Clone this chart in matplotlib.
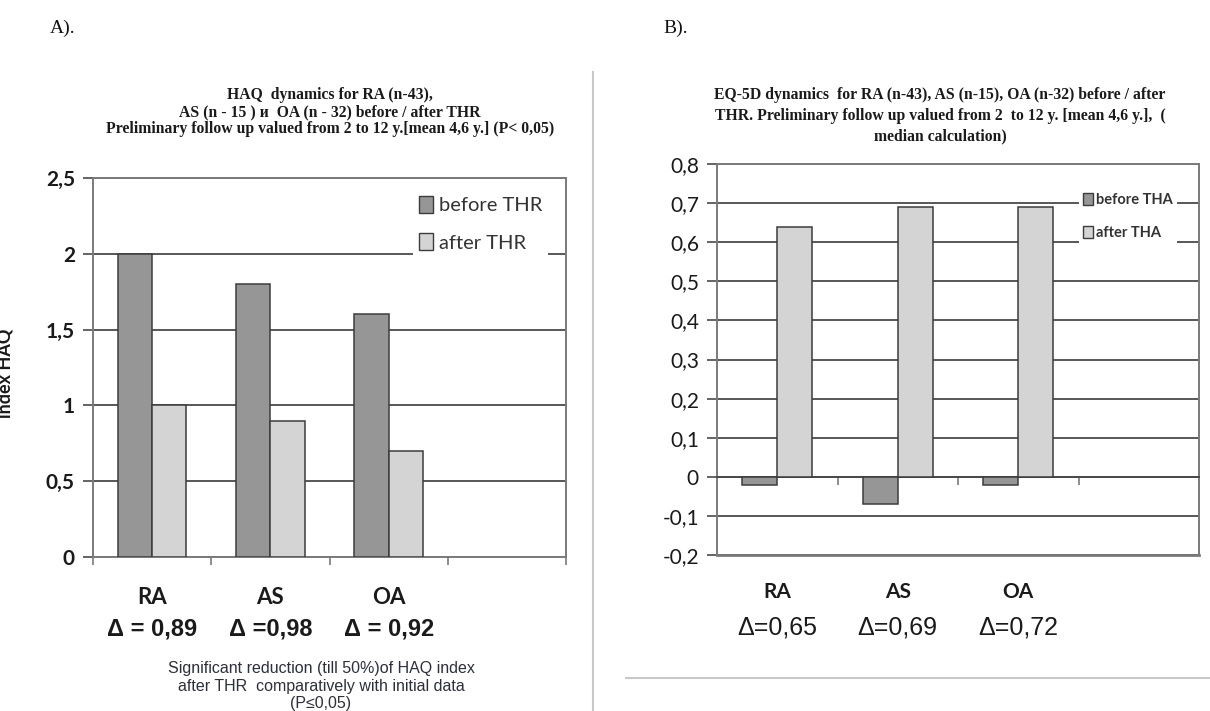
import numpy as np
import matplotlib
matplotlib.use("Agg")
import matplotlib.pyplot as plt
from matplotlib.patches import Patch
from matplotlib.lines import Line2D
import matplotlib.transforms as mtransforms

# ---------------------------------------------------
# Data
# ---------------------------------------------------
groups = ["RA", "AS", "OA"]
n_slots = 4  # the Excel charts leave one empty category on the right

haq_before = [2.0, 1.8, 1.6]
haq_after = [1.0, 0.9, 0.7]
haq_delta = ["\u0394 = 0,89", "\u0394 =0,98", "\u0394 = 0,92"]

eq_before = [-0.02, -0.07, -0.02]
eq_after = [0.64, 0.69, 0.69]
eq_delta = ["\u0394=0,65", "\u0394=0,69", "\u0394=0,72"]

haq_ticks = [0, 0.5, 1, 1.5, 2, 2.5]
haq_ticklabels = ["0", "0,5", "1", "1,5", "2", "2,5"]
eq_ticks = [-0.2, -0.1, 0, 0.1, 0.2, 0.3, 0.4, 0.5, 0.6, 0.7, 0.8]
eq_ticklabels = ["-0,2", "-0,1", "0", "0,1", "0,2", "0,3", "0,4", "0,5", "0,6", "0,7", "0,8"]

title_a = ("HAQ  dynamics for RA (n-43),\n"
           "AS (n - 15 ) \u0438  OA (n - 32) before / after THR\n"
           "Preliminary follow up valued from 2 to 12 y.[mean 4,6 y.] (P< 0,05)")
title_b = ("EQ-5D dynamics  for RA (n-43), AS (n-15), OA (n-32) before / after\n"
           "THR. Preliminary follow up valued from 2  to 12 y. [mean 4,6 y.],  (\n"
           "median calculation)")
note_a = ("Significant reduction (till 50%)of HAQ index\n"
          "after THR  comparatively with initial data\n"
          "(P\u22640,05)")

# ---------------------------------------------------
# Styling
# ---------------------------------------------------
W, H = 1210, 711
dark = "#969696"
light = "#d4d4d4"
edge = "#3c3c3c"
spine_c = "#7a7a7a"
grid_c = "#4a4a4a"
narrow = ["Liberation Sans Narrow", "Liberation Sans", "DejaVu Sans"]

fig = plt.figure(figsize=(W / 100, H / 100), dpi=100)
fig.patch.set_facecolor("white")


def px_axes(l, t, r, b):
    return fig.add_axes([l / W, 1 - b / H, (r - l) / W, (b - t) / H])


def fy(y):
    return 1 - y / H


def style_axes(ax):
    for s in ax.spines.values():
        s.set_color(spine_c)
        s.set_linewidth(1.4)
    ax.yaxis.grid(True, color=grid_c, linewidth=1.3)
    ax.set_axisbelow(True)
    ax.tick_params(axis="y", direction="out", length=7, width=1.2, color=grid_c, pad=6)
    ax.tick_params(axis="x", direction="out", length=6, width=1.2, color=spine_c, labelbottom=False)


x = np.arange(len(groups))
bw = 0.29

# ---------------------------------------------------
# A) HAQ chart
# ---------------------------------------------------
ax1 = px_axes(93, 178, 566, 557)
ax1.bar(x - bw / 2, haq_before, bw, color=dark, edgecolor=edge, linewidth=1.1, zorder=3)
ax1.bar(x + bw / 2, haq_after, bw, color=light, edgecolor=edge, linewidth=1.1, zorder=3)
ax1.set_xlim(-0.5, n_slots - 0.5)
ax1.set_ylim(0, 2.5)
ax1.set_yticks(haq_ticks)
ax1.set_yticklabels(haq_ticklabels, fontfamily="Lato", fontweight="bold", fontsize=15, color="#1a1a1a")
ax1.set_xticks(np.arange(n_slots + 1) - 0.5)
style_axes(ax1)

leg1 = ax1.legend(
    handles=[Patch(facecolor=dark, edgecolor=edge, label="before THR"),
             Patch(facecolor=light, edgecolor=edge, label="after THR")],
    loc="upper left", bbox_to_anchor=(0.655, 0.995), frameon=True, fancybox=False,
    facecolor="white", edgecolor="none", framealpha=1,
    prop={"family": "Lato", "size": 14.5}, handlelength=0.7, handleheight=0.9,
    handletextpad=0.3, labelspacing=0.95, borderpad=0.3)
for t in leg1.get_texts():
    t.set_color("#333333")

tr1 = mtransforms.blended_transform_factory(ax1.transData, fig.transFigure)
for i, g in enumerate(groups):
    ax1.text(x[i], fy(597), g, transform=tr1, ha="center", va="center",
             fontfamily="Lato", fontweight="bold", fontsize=16, color="#1a1a1a")
    ax1.text(x[i], fy(629), haq_delta[i], transform=tr1, ha="center", va="center",
             family=narrow, fontweight="bold", fontsize=17, color="#1a1a1a")

fig.text(330 / W, fy(112), title_a, ha="center", va="center", family="Liberation Serif",
         fontweight="bold", fontsize=11.3, linespacing=1.05, color="#1a1a1a")
fig.text(321 / W, fy(686), note_a, ha="center", va="center", family=narrow,
         fontsize=11.5, linespacing=1.2, color="#2e2e3e")
fig.text(5 / W, fy(373), "index HAQ", rotation=90, ha="center", va="center",
         family="Lato", fontweight="bold", fontsize=13, color="#1a1a1a")

# ---------------------------------------------------
# B) EQ-5D chart
# ---------------------------------------------------
ax2 = px_axes(717, 164, 1199, 555)
ax2.bar(x - bw / 2, eq_before, bw, color=dark, edgecolor=edge, linewidth=1.1, zorder=3)
ax2.bar(x + bw / 2, eq_after, bw, color=light, edgecolor=edge, linewidth=1.1, zorder=3)
ax2.set_xlim(-0.5, n_slots - 0.5)
ax2.set_ylim(-0.2, 0.8)
ax2.set_yticks(eq_ticks)
ax2.set_yticklabels(eq_ticklabels, fontfamily="Lato", fontsize=15, color="#1a1a1a")
ax2.set_xticks(np.arange(1, n_slots) - 0.5)
style_axes(ax2)
ax2.axhline(-0.2, color=spine_c, linewidth=2.0, zorder=1, clip_on=False)
# category axis crosses at zero
ax2.spines["bottom"].set_position(("data", 0))
ax2.spines["bottom"].set_color(grid_c)
ax2.tick_params(axis="x", labelbottom=False)

leg2 = ax2.legend(
    handles=[Patch(facecolor=dark, edgecolor=edge, label="before THA"),
             Patch(facecolor=light, edgecolor=edge, label="after THA")],
    loc="upper left", bbox_to_anchor=(0.735, 0.955), frameon=True, fancybox=False,
    facecolor="white", edgecolor="none", framealpha=1,
    prop={"family": "Lato", "size": 10.5, "weight": "bold"}, handlelength=0.7,
    handleheight=0.9, handletextpad=0.2, labelspacing=1.25, borderpad=0.3)
for t in leg2.get_texts():
    t.set_color("#333333")

tr2 = mtransforms.blended_transform_factory(ax2.transData, fig.transFigure)
for i, g in enumerate(groups):
    ax2.text(x[i], fy(592), g, transform=tr2, ha="center", va="center",
             fontfamily="Lato", fontweight="bold", fontsize=15, color="#1a1a1a")
    ax2.text(x[i], fy(627), eq_delta[i], transform=tr2, ha="center", va="center",
             family="Liberation Sans", fontsize=18, color="#1a1a1a")

fig.text(940 / W, fy(116), title_b, ha="center", va="center", family="Liberation Serif",
         fontweight="bold", fontsize=11.3, linespacing=1.4, color="#1a1a1a")

# ---------------------------------------------------
# Page decorations
# ---------------------------------------------------
fig.text(50 / W, fy(28), "A).", ha="left", va="center", family="Liberation Serif",
         fontsize=14, color="#111111")
fig.text(663 / W, fy(28), "B).", ha="left", va="center", family="Liberation Serif",
         fontsize=14, color="#111111")
fig.add_artist(Line2D([593 / W, 593 / W], [fy(72), 0], color="#c8c8c8", linewidth=1.5))
fig.add_artist(Line2D([626 / W, 1], [fy(678), fy(678)], color="#c8c8c8", linewidth=1.5))

plt.savefig("out.png", dpi=100)
